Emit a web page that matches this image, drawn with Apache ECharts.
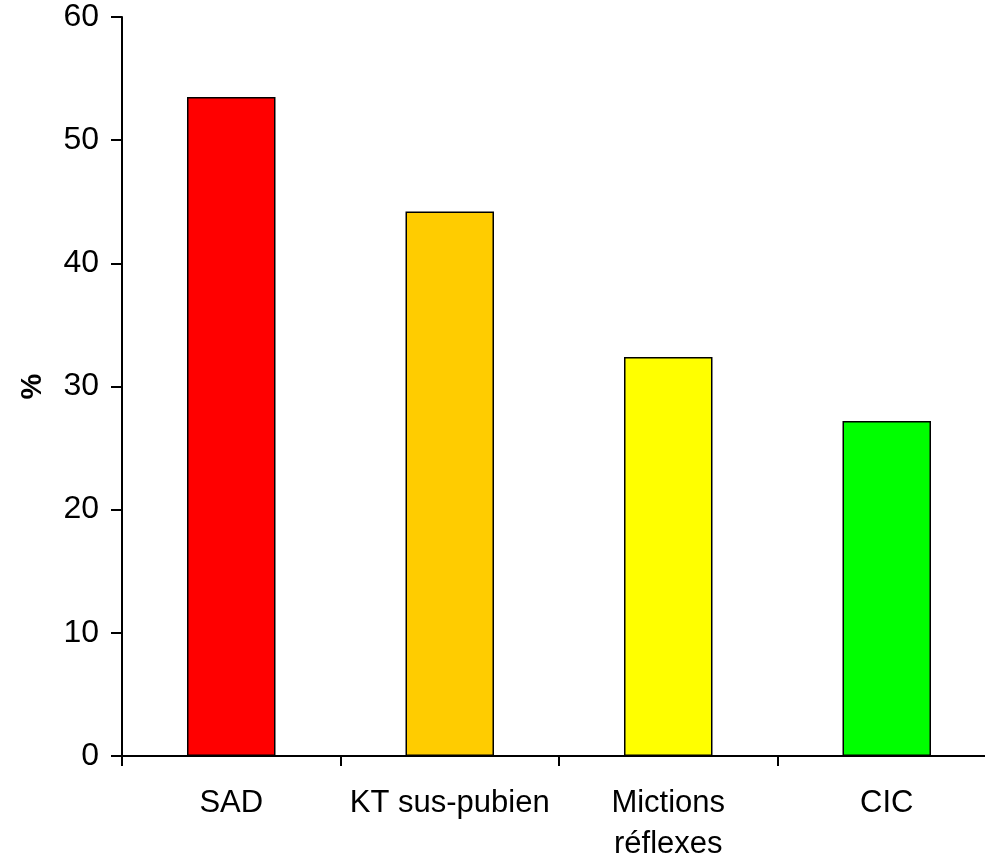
<!DOCTYPE html>
<html><head><meta charset="utf-8">
<script src="https://cdn.jsdelivr.net/npm/echarts@6/dist/echarts.min.js"></script>
<style>html,body{margin:0;padding:0;background:#fff}#c{width:985px;height:859px}</style>
</head><body><div id="c"></div>
<script>
const categories = ['SAD', 'KT sus-pubien', 'Mictions\nréflexes', 'CIC'];
const values = [53.5, 44.2, 32.4, 27.2];
const colors = ['#FF0000', '#FFCC00', '#FFFF00', '#00FF00'];
const yTicks = [0, 10, 20, 30, 40, 50, 60];

const chart = echarts.init(document.getElementById('c'), null, {renderer: 'canvas'});
chart.setOption({
  animation: false,
  backgroundColor: '#fff',
  grid: {left: 122, top: 17, width: 874, height: 739, containLabel: false, outerBoundsMode: 'none'},
  xAxis: {
    type: 'category',
    data: categories,
    axisLine: {lineStyle: {color: '#000', width: 2}},
    axisTick: {show: true, length: 10, lineStyle: {color: '#000', width: 2}},
    axisLabel: {color: '#000', fontFamily: 'Liberation Sans, Arial', fontSize: 31, margin: 27, lineHeight: 41, interval: 0}
  },
  yAxis: {
    type: 'value', min: yTicks[0], max: yTicks[yTicks.length-1], interval: 10,
    name: '%', nameLocation: 'middle', nameGap: 75, nameRotate: 90,
    nameTextStyle: {color: '#000', fontFamily: 'Liberation Sans, Arial', fontSize: 29, fontWeight: 'bold'},
    axisLine: {show: true, lineStyle: {color: '#000', width: 2}},
    axisTick: {show: true, length: 11, lineStyle: {color: '#000', width: 2}},
    axisLabel: {color: '#000', fontFamily: 'Liberation Sans, Arial', fontSize: 32, margin: 23},
    splitLine: {show: false}
  },
  series: [{
    type: 'bar',
    barWidth: '40.5%',
    data: values.map((v, i) => ({value: v, itemStyle: {color: colors[i]}})),
    itemStyle: {borderColor: '#000', borderWidth: 1.5}
  }]
});
</script></body></html>
